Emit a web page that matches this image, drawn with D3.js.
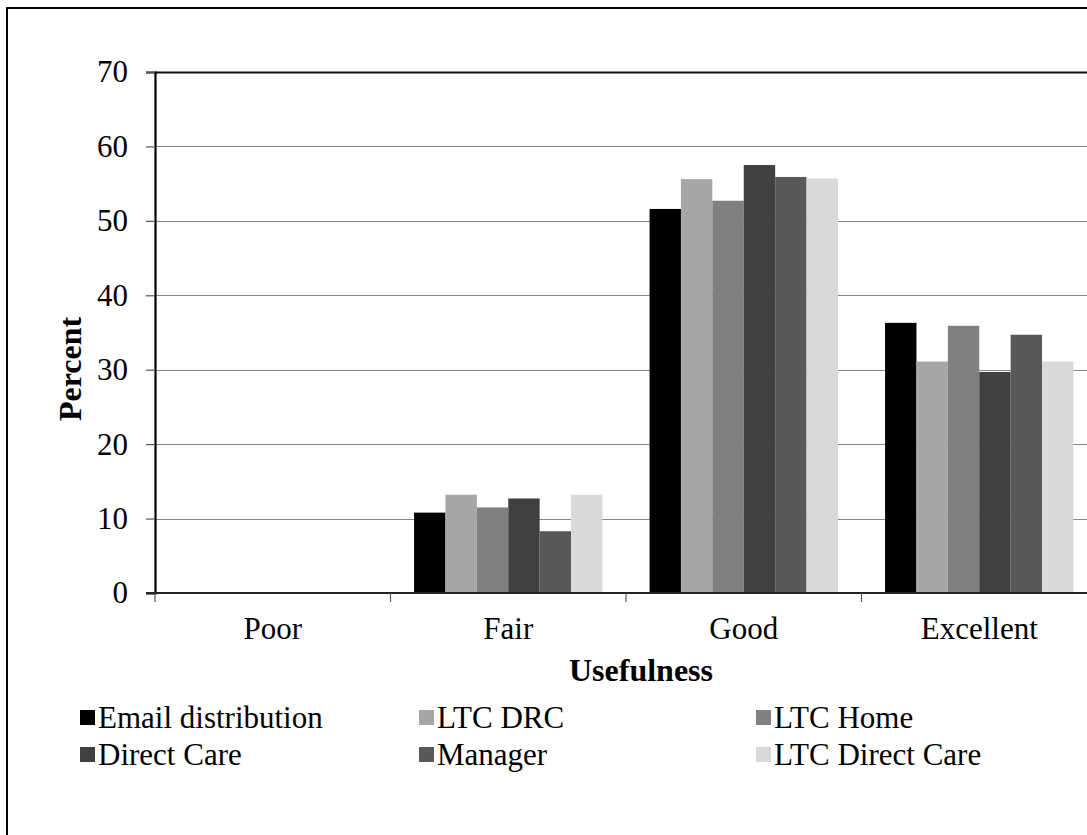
<!DOCTYPE html>
<html>
<head>
<meta charset="utf-8">
<script src="https://cdn.jsdelivr.net/npm/d3@7"></script>
<style>
  html, body { margin: 0; padding: 0; background: #fff; }
  svg { display: block; }
</style>
</head>
<body>
<div id="chart"></div>
<script>
// Usefulness ratings, percent of respondents per group
const categories = ["Poor", "Fair", "Good", "Excellent"];
const seriesNames = ["Email distribution", "LTC DRC", "LTC Home", "Direct Care", "Manager", "LTC Direct Care"];
const emailDistribution = [0, 10.8, 51.6, 36.3];
const ltcDrc = [0, 13.2, 55.6, 31.1];
const ltcHome = [0, 11.5, 52.7, 35.9];
const directCare = [0, 12.7, 57.5, 29.7];
const manager = [0, 8.3, 55.9, 34.7];
const ltcDirectCare = [0, 13.2, 55.7, 31.1];
const yTicks = [0, 10, 20, 30, 40, 50, 60, 70];
const seriesColors = ["#000000", "#a6a6a6", "#808080", "#404040", "#595959", "#d9d9d9"];

const seriesValues = [emailDistribution, ltcDrc, ltcHome, directCare, manager, ltcDirectCare];

const W = 1087, H = 835;
const plot = { left: 155, top: 72, right: 1097, bottom: 593 };

// every text element gets the serif face explicitly
function serif(sel, size, weight) {
  return sel.style("font-family", "'Liberation Serif'")
    .style("font-size", size + "px")
    .style("font-weight", weight || "normal")
    .attr("fill", "#000");
}

const svg = d3.select("#chart").append("svg")
  .attr("width", W).attr("height", H);

// outer chart border (extends past the right and bottom edges)
svg.append("rect")
  .attr("x", 7).attr("y", 8)
  .attr("width", 1200).attr("height", 900)
  .attr("fill", "none").attr("stroke", "#000").attr("stroke-width", 2);

const x0 = d3.scaleBand().domain(categories)
  .range([plot.left, plot.right]).paddingInner(0).paddingOuter(0);
const bw = x0.bandwidth();
const x1 = d3.scaleBand().domain(seriesNames)
  .range([bw * 0.1, bw * 0.9]).padding(0);
const y = d3.scaleLinear().domain([0, 70]).range([plot.bottom, plot.top]);

// horizontal gridlines
svg.append("g").selectAll("line")
  .data(yTicks.filter(t => t > 0))
  .join("line")
  .attr("x1", plot.left).attr("x2", W + 20)
  .attr("y1", d => Math.round(y(d)) + 0.5).attr("y2", d => Math.round(y(d)) + 0.5)
  .attr("stroke", d => d === 70 ? "#111" : "#868686")
  .attr("stroke-width", d => d === 70 ? 2 : 1.2);

// bars
const groups = svg.append("g").selectAll("g")
  .data(categories)
  .join("g")
  .attr("transform", d => `translate(${x0(d)},0)`);

groups.selectAll("rect")
  .data((c, ci) => seriesNames.map((s, si) => ({ s, si, v: seriesValues[si][ci] })))
  .join("rect")
  .attr("x", d => x1(d.s))
  .attr("width", x1.bandwidth())
  .attr("y", d => y(d.v))
  .attr("height", d => y(0) - y(d.v))
  .attr("fill", d => seriesColors[d.si]);

// y axis
const yAxis = d3.axisLeft(y).tickValues(yTicks).tickSize(9).tickPadding(18);
const gy = svg.append("g").attr("transform", `translate(${plot.left},0)`).call(yAxis);
gy.select(".domain").attr("stroke", "#000").attr("stroke-width", 2.2);
gy.selectAll(".tick line").attr("stroke", "#555").attr("stroke-width", 1.2);
serif(gy.selectAll(".tick text"), 31);

// x axis: ticks at category boundaries, labels at band centres
const gx = svg.append("g").attr("transform", `translate(0,${plot.bottom})`);
gx.append("line")
  .attr("x1", plot.left - 9).attr("x2", W + 20)
  .attr("y1", 0).attr("y2", 0)
  .attr("stroke", "#222").attr("stroke-width", 2);
const boundaries = categories.map(c => x0(c)).concat([plot.right]);
gx.selectAll("line.bt")
  .data(boundaries)
  .join("line").attr("class", "bt")
  .attr("x1", d => d).attr("x2", d => d)
  .attr("y1", 0).attr("y2", 9)
  .attr("stroke", "#555").attr("stroke-width", 1.2);
serif(gx.selectAll("text.cat")
  .data(categories)
  .join("text").attr("class", "cat")
  .attr("x", d => x0(d) + bw / 2)
  .attr("y", 46)
  .attr("text-anchor", "middle")
  .text(d => d), 31);

// axis titles
serif(svg.append("text")
  .attr("x", 641).attr("y", 681)
  .attr("text-anchor", "middle")
  .text("Usefulness"), 32, "bold");

serif(svg.append("text")
  .attr("transform", "translate(81,369) rotate(-90)")
  .attr("text-anchor", "middle")
  .text("Percent"), 32, "bold");

// legend: two rows of three
const legendCols = [80, 419, 756];
const legendRows = [728, 765];
const legend = svg.append("g").selectAll("g")
  .data(seriesNames)
  .join("g")
  .attr("transform", (d, i) => `translate(${legendCols[i % 3]},${legendRows[Math.floor(i / 3)]})`);
legend.append("rect")
  .attr("x", 0).attr("y", -18)
  .attr("width", 15).attr("height", 15)
  .attr("fill", (d, i) => seriesColors[i]);
serif(legend.append("text")
  .attr("x", 18).attr("y", 0)
  .text(d => d), 31);
</script>
</body>
</html>
